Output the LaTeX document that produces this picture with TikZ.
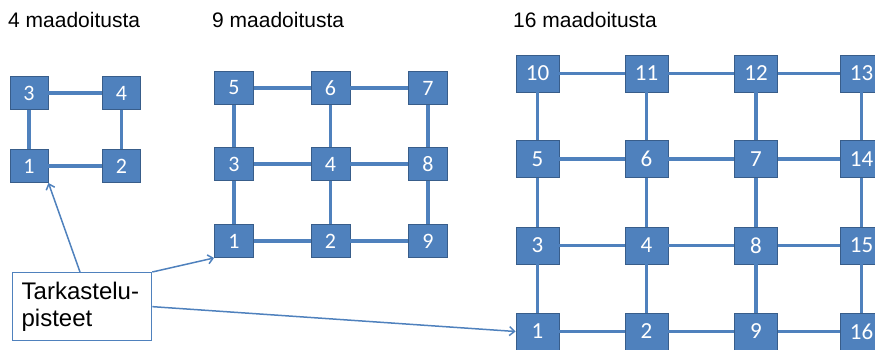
\documentclass[tikz,border=0pt]{standalone}
\usepackage{fontspec}
\setmainfont{Liberation Sans}
\newfontfamily\numfont{Carlito}
\usetikzlibrary{arrows.meta,calc}
\definecolor{boxblue}{HTML}{4F81BD}
\definecolor{boxedge}{HTML}{385D8A}
\tikzset{
  maa/.style={draw=boxedge, line width=0.9pt, fill=boxblue, text=white, inner sep=0pt},
  pieni/.style={maa, minimum width=38pt, minimum height=33pt, font=\numfont\fontsize{22}{22}\selectfont},
  keski/.style={maa, minimum width=39pt, minimum height=33pt, font=\numfont\fontsize{22}{22}\selectfont},
  suuri/.style={maa, minimum width=43pt, minimum height=37pt, font=\numfont\fontsize{23}{23}\selectfont},
  yhd/.style={draw=boxblue, line width=3.6pt},
  nuoli/.style={draw=boxblue, line width=1.5pt, -{Straight Barb[length=5pt,width=9pt]}},
  otsikko/.style={anchor=base west, inner sep=0pt, font=\fontsize{21}{21}\selectfont}
}
\begin{document}
\begin{tikzpicture}[x=1pt,y=-1pt]
\useasboundingbox (0,0) rectangle (875,350);
\node[otsikko] (t4) at (8,28) {4 maadoitusta};
\node[otsikko] (t9) at (212,28) {9 maadoitusta};
\node[otsikko] (t16) at (513,28) {16 maadoitusta};
% 4 maadoitusta
\foreach \n/\x/\y in {3/29/93, 4/121.5/93, 1/29/166, 2/121.5/166}
  \node[pieni] (a\n) at (\x,\y) {\n};
\foreach \p/\q in {3/4, 1/2, 3/1, 4/2}
  \draw[yhd] (a\p) -- (a\q);
% 9 maadoitusta
\foreach \n/\x/\y in {5/234/88, 6/330.5/88, 7/428/88,
                      3/234/164, 4/330.5/164, 8/428/164,
                      1/234/241, 2/330.5/241, 9/428/241}
  \node[keski] (b\n) at (\x,\y) {\n};
\foreach \p/\q in {5/6, 6/7, 3/4, 4/8, 1/2, 2/9, 5/3, 3/1, 6/4, 4/2, 7/8, 8/9}
  \draw[yhd] (b\p) -- (b\q);
% 16 maadoitusta
\foreach \n/\x/\y in {10/537.5/73.5, 11/646.5/73.5, 12/756/73.5, 13/861.5/73.5,
                      5/537.5/159, 6/646.5/159, 7/756/159, 14/861.5/159,
                      3/537.5/245.5, 4/646.5/245.5, 8/756/245.5, 15/861.5/245.5,
                      1/537.5/331.5, 2/646.5/331.5, 9/756/331.5, 16/861.5/331.5}
  \node[suuri] (c\n) at (\x,\y) {\n};
\foreach \p/\q in {10/11, 11/12, 12/13, 5/6, 6/7, 7/14, 3/4, 4/8, 8/15, 1/2, 2/9, 9/16,
                   10/5, 5/3, 3/1, 11/6, 6/4, 4/2, 12/7, 7/8, 8/9, 13/14, 14/15, 15/16}
  \draw[yhd] (c\p) -- (c\q);
% tarkastelupisteet
\node[draw=boxblue, line width=1.3pt, fill=white, anchor=north west, minimum width=139pt,
      minimum height=68pt, text width=121pt, inner xsep=9pt, inner ysep=3pt, align=left,
      font=\fontsize{24}{27}\selectfont] (tark) at (12,272) {Tarkastelu-\\pisteet};
\draw[nuoli] ($(tark.north west)+(68,0)$) -- (a1.south east);
\draw[nuoli] (tark.north east) -- (b1.south west);
\draw[nuoli] (tark.east) -- (c1.west);
\end{tikzpicture}
\end{document}
